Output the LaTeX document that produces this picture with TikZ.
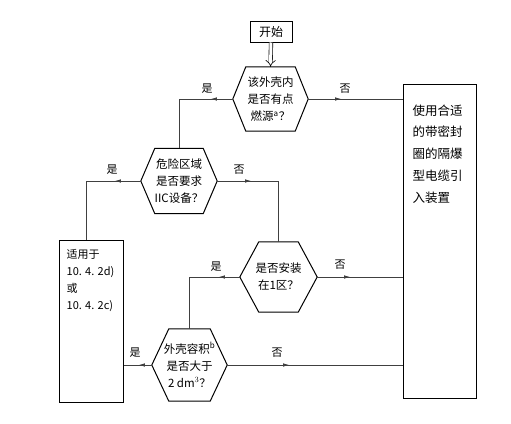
\documentclass[tikz,border=0pt]{standalone}
\usepackage{fontspec}
\setmainfont{Noto Sans CJK SC}
\usetikzlibrary{arrows.meta,decorations.markings}
\begin{document}
\begin{tikzpicture}[x=1pt,y=-1pt,
  box/.style={draw, line width=1pt, inner sep=0pt},
  hexnode/.style={inner sep=0pt, align=center, font=\fontsize{11.5}{17}\selectfont},
  hexline/.style={draw, line width=1pt, line join=miter},
  conn/.style={draw=black!75, line width=0.7pt},
  midarrow/.style={postaction={decorate}, decoration={markings, mark=at position #1 with {\arrow{Latex[length=6pt,width=3.5pt]}}}},
  lab/.style={inner sep=0pt, font=\fontsize{11}{13}\selectfont}]
\useasboundingbox (0,0) rectangle (511,423);

% start box
\node[box, minimum width=42pt, minimum height=21pt, font=\fontsize{12}{14}\selectfont] (start) at (271,31.5) {开始};

% decisions
\node[hexnode, minimum width=75pt, minimum height=64pt] (h1) at (270.5,99) {该外壳内\\是否有点\\燃源$^{\mathrm{a}}$？};
\node[hexnode, minimum width=76pt, minimum height=65pt] (h2) at (179,181) {危险区域\\是否要求\\IIC设备？};
\node[hexnode, minimum width=77pt, minimum height=70pt] (h3) at (278.5,277) {是否安装\\在1区？};
\node[hexnode, minimum width=75pt, minimum height=72pt] (h4) at (189.5,365) {外壳容积$^{\mathrm{b}}$\\是否大于\\2 dm$^{3}$？};
\foreach \n/\i in {h1/13,h2/14,h3/19,h4/17}
  \draw[hexline] (\n.west) -- ([xshift=\i pt]\n.north west) -- ([xshift=-\i pt]\n.north east) -- (\n.east) -- ([xshift=-\i pt]\n.south east) -- ([xshift=\i pt]\n.south west) -- cycle;

% result boxes
\node[box, minimum width=73pt, minimum height=314pt,
  label={[anchor=north west, inner sep=0pt, xshift=10pt, yshift=-21pt, align=left, font=\fontsize{12.5}{21.7}\selectfont]north west:使用合适\\的带密封\\圈的隔爆\\型电缆引\\入装置}] (R) at (439.5,241) {};
\node[box, minimum width=64pt, minimum height=162pt,
  label={[anchor=north west, inner sep=0pt, xshift=8pt, yshift=-10pt, align=left, font=\fontsize{11}{17}\selectfont]north west:适用于\\10. 4. 2d)\\或\\10. 4. 2c)}] (L) at (91,321) {};

% connectors
\draw[double, double distance=3pt, line width=0.6pt, -{Implies[length=6pt,width=11pt]}] (start.south) -- (h1.north);
\draw[conn, midarrow=22pt] (h1.west) -- (h1.west -| h2.north) -- (h2.north);
\draw[conn, midarrow=33pt] (h1.east) -- (h1.east -| R.west);
\draw[conn, midarrow=26pt] (h2.west) -- ([xshift=-5pt]L.north |- h2.west) -- ([xshift=-5pt]L.north);
\draw[conn, midarrow=34pt] (h2.east) -- (h2.east -| h3.north) -- (h3.north);
\draw[conn, midarrow=21pt] (h3.west) -- (h3.west -| h4.north) -- (h4.north);
\draw[conn, midarrow=33pt] (h3.east) -- (h3.east -| R.west);
\draw[conn, midarrow=13pt] (h4.west) -- (h4.west -| L.east);
\draw[conn, midarrow=62pt] (h4.east) -- (h4.east -| R.west);

% labels
\node[lab] (y1) at (207,89) {是};
\node[lab] (n1) at (345,89) {否};
\node[lab] (y2) at (112,170) {是};
\node[lab] (n2) at (239,170) {否};
\node[lab] (y3) at (216,267) {是};
\node[lab] (n3) at (340,265) {否};
\node[lab] (y4) at (135,353) {是};
\node[lab] (n4) at (277,353) {否};
\end{tikzpicture}
\end{document}
